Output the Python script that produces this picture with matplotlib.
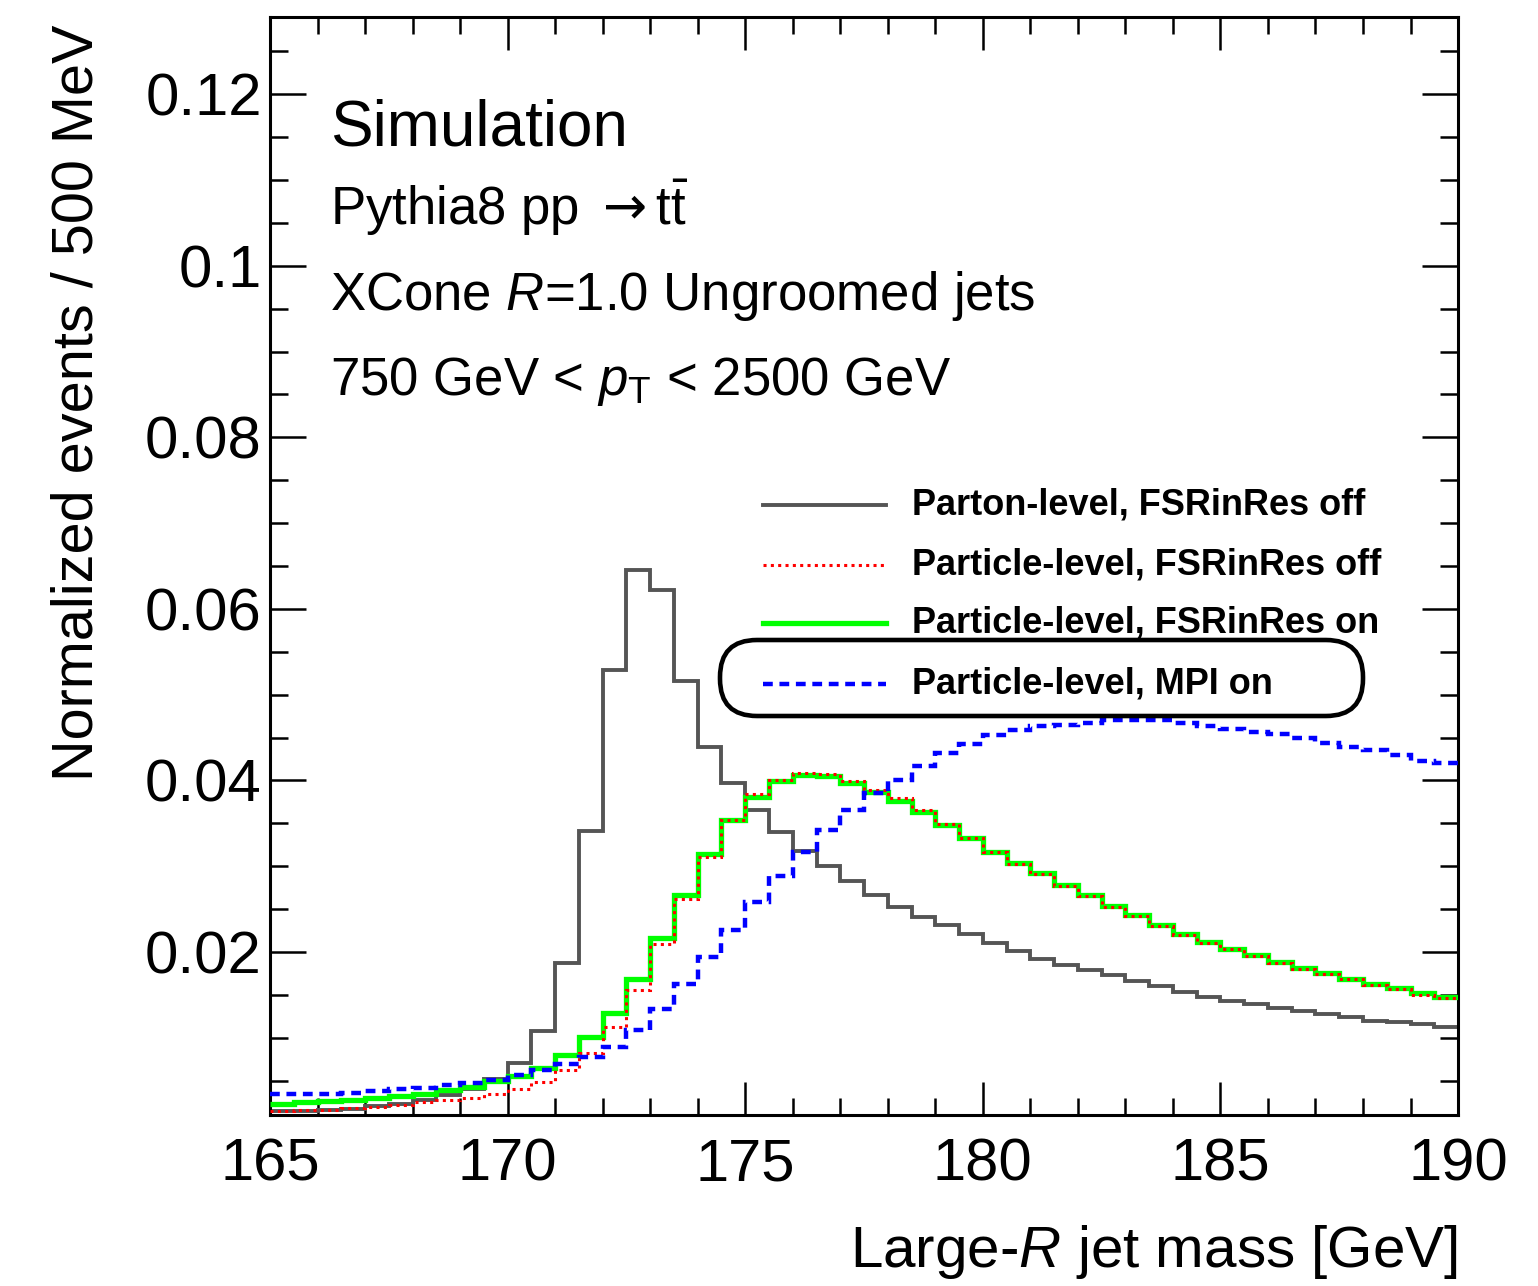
import matplotlib
matplotlib.use("Agg")
import matplotlib.pyplot as plt
import numpy as np
from matplotlib.patches import FancyBboxPatch
from matplotlib.lines import Line2D
from matplotlib.ticker import MultipleLocator, FuncFormatter

plt.rcParams["font.family"] = ["Liberation Sans", "DejaVu Sans"]
plt.rcParams["mathtext.fontset"] = "custom"
plt.rcParams["mathtext.rm"] = "Liberation Sans"
plt.rcParams["mathtext.it"] = "Liberation Sans:italic"
plt.rcParams["mathtext.bf"] = "Liberation Sans:bold"
plt.rcParams["mathtext.sf"] = "DejaVu Sans"

# 0.5 GeV bins, 165-190 GeV
bin_edges = np.arange(165.0, 190.01, 0.5)

parton_fsr_off = [
    0.00143, 0.00143, 0.00155, 0.0017, 0.0020, 0.0023, 0.0027, 0.0033, 0.0040, 0.0052,
    0.0071, 0.0108, 0.0187, 0.0341, 0.0529, 0.0645, 0.0622, 0.0516, 0.0439, 0.0397,
    0.0366, 0.0340, 0.0318, 0.0300, 0.0283, 0.0267, 0.0252, 0.0241, 0.0231, 0.0221,
    0.0211, 0.0201, 0.0192, 0.0185, 0.0179, 0.0173, 0.0166, 0.0160, 0.0153, 0.0148,
    0.0143, 0.0139, 0.0135, 0.0131, 0.0128, 0.0124, 0.0120, 0.0118, 0.0116, 0.0112,
]
particle_fsr_off = [
    0.0015, 0.00155, 0.0016, 0.0018, 0.0019, 0.0022, 0.0025, 0.0027, 0.0030, 0.0035,
    0.0040, 0.0049, 0.0062, 0.0082, 0.0112, 0.0156, 0.0209, 0.0262, 0.0311, 0.0354,
    0.0384, 0.0401, 0.0409, 0.0408, 0.0399, 0.0389, 0.0379, 0.0366, 0.0349, 0.0333,
    0.0316, 0.0303, 0.0291, 0.0277, 0.0265, 0.0253, 0.0242, 0.0230, 0.0220, 0.0211,
    0.0203, 0.0195, 0.0187, 0.0180, 0.0174, 0.0168, 0.0162, 0.0157, 0.0150, 0.0146,
]
particle_fsr_on = [
    0.0023, 0.0025, 0.0026, 0.0028, 0.0030, 0.0032, 0.0035, 0.0039, 0.0043, 0.0050,
    0.0056, 0.0065, 0.0080, 0.0101, 0.0129, 0.0169, 0.0216, 0.0266, 0.0314, 0.0354,
    0.0381, 0.0399, 0.0406, 0.0405, 0.0397, 0.0386, 0.0376, 0.0363, 0.0348, 0.0333,
    0.0317, 0.0304, 0.0292, 0.0278, 0.0266, 0.0254, 0.0243, 0.0231, 0.0221, 0.0212,
    0.0204, 0.0196, 0.0188, 0.0181, 0.0175, 0.0169, 0.0163, 0.0158, 0.0152, 0.0148,
]
particle_mpi_on = [
    0.0034, 0.0034, 0.0035, 0.0036, 0.0038, 0.0040, 0.0042, 0.0045, 0.0047, 0.0051,
    0.0057, 0.0062, 0.0069, 0.0077, 0.0089, 0.0109, 0.0134, 0.0163, 0.0194, 0.0226,
    0.0258, 0.0289, 0.0316, 0.0342, 0.0366, 0.0385, 0.0401, 0.0417, 0.0432, 0.0443,
    0.0453, 0.0459, 0.0463, 0.0465, 0.0467, 0.0470, 0.0471, 0.0470, 0.0467, 0.0463,
    0.0460, 0.0457, 0.0454, 0.0449, 0.0444, 0.0439, 0.0435, 0.0430, 0.0423, 0.0420,
]

labels = [
    "Parton-level, FSRinRes off",
    "Particle-level, FSRinRes off",
    "Particle-level, FSRinRes on",
    "Particle-level, MPI on",
]

# (values, colour, linewidth, linestyle, zorder) in legend order
series = [
    (parton_fsr_off, "#555555", 2.8, "-", 2),
    (particle_fsr_off, "#ff0000", 2.2, (0, (1.0, 1.4)), 4),
    (particle_fsr_on, "#00ff00", 3.8, "-", 3),
    (particle_mpi_on, "#0000ff", 3.2, (0, (2.2, 1.5)), 5),
]

fig = plt.figure(figsize=(15.38, 12.86), dpi=100)
ax = fig.add_axes([0.1756, 0.133, 0.948 - 0.1756, 0.9868 - 0.133])

for vals, col, lw, ls, z in series:
    ax.stairs(vals, bin_edges, color=col, lw=lw, ls=ls, zorder=z, baseline=None)

ax.set_xlim(165, 190)
ax.set_ylim(0.001, 0.129)

ax.xaxis.set_major_locator(MultipleLocator(5))
ax.xaxis.set_minor_locator(MultipleLocator(1))
ax.yaxis.set_major_locator(MultipleLocator(0.02))
ax.yaxis.set_minor_locator(MultipleLocator(0.005))
ax.yaxis.set_major_formatter(FuncFormatter(lambda v, p: f"{v:g}"))

ax.tick_params(which="both", direction="in", top=True, right=True, width=1.8)
ax.tick_params(axis="x", which="major", length=23.5, pad=16, labelsize=43)
ax.tick_params(axis="x", which="minor", length=12)
ax.tick_params(axis="y", which="major", length=26, pad=6, labelsize=43)
ax.tick_params(axis="y", which="minor", length=13)
for s in ax.spines.values():
    s.set_linewidth(2.2)

fig.text(78 / 1538, 1 - 25 / 1286, "Normalized events / 500 MeV", rotation=90,
         ha="center", va="top", fontsize=41.5)
fig.text(1458 / 1538, 1 - 1252 / 1286, r"Large-$R$ jet mass [GeV]",
         ha="right", va="center", fontsize=42)

# annotation block
tx = 0.0505
ax.text(tx, 0.8834, "Simulation", transform=ax.transAxes, fontsize=46, va="baseline")
ax.text(tx, 0.8106, r"Pythia8 pp $\mathsf{\rightarrow}$t$\bar{\mathrm{t}}$",
        transform=ax.transAxes, fontsize=38, va="baseline")
ax.text(tx, 0.7332, "XCone $R$=1.0 Ungroomed jets", transform=ax.transAxes,
        fontsize=38, va="baseline")
ax.text(tx, 0.6557, r"750 GeV < $p_{\mathrm{T}}$ < 2500 GeV", transform=ax.transAxes,
        fontsize=38, va="baseline")

# legend drawn by hand to keep ROOT-like spacing
row_y = [0.5556, 0.5009, 0.4481, 0.3925]
for (vals, col, lw, ls, z), lab, y in zip(series, labels, row_y):
    ax.add_line(Line2D([0.415, 0.5185], [y, y], transform=ax.transAxes,
                       color=col, lw=lw, ls=ls, zorder=6))
    ax.text(0.5404, y, lab, transform=ax.transAxes, fontsize=26,
            fontweight="bold", va="center", zorder=6)

# rounded box around the MPI entry
box = FancyBboxPatch((7.20, 5.70), 6.43, 0.76,
                     boxstyle="round,pad=0,rounding_size=0.37",
                     transform=fig.dpi_scale_trans, fill=False,
                     edgecolor="black", lw=3.3, zorder=7)
fig.add_artist(box)

fig.savefig("out.png", dpi=100)
